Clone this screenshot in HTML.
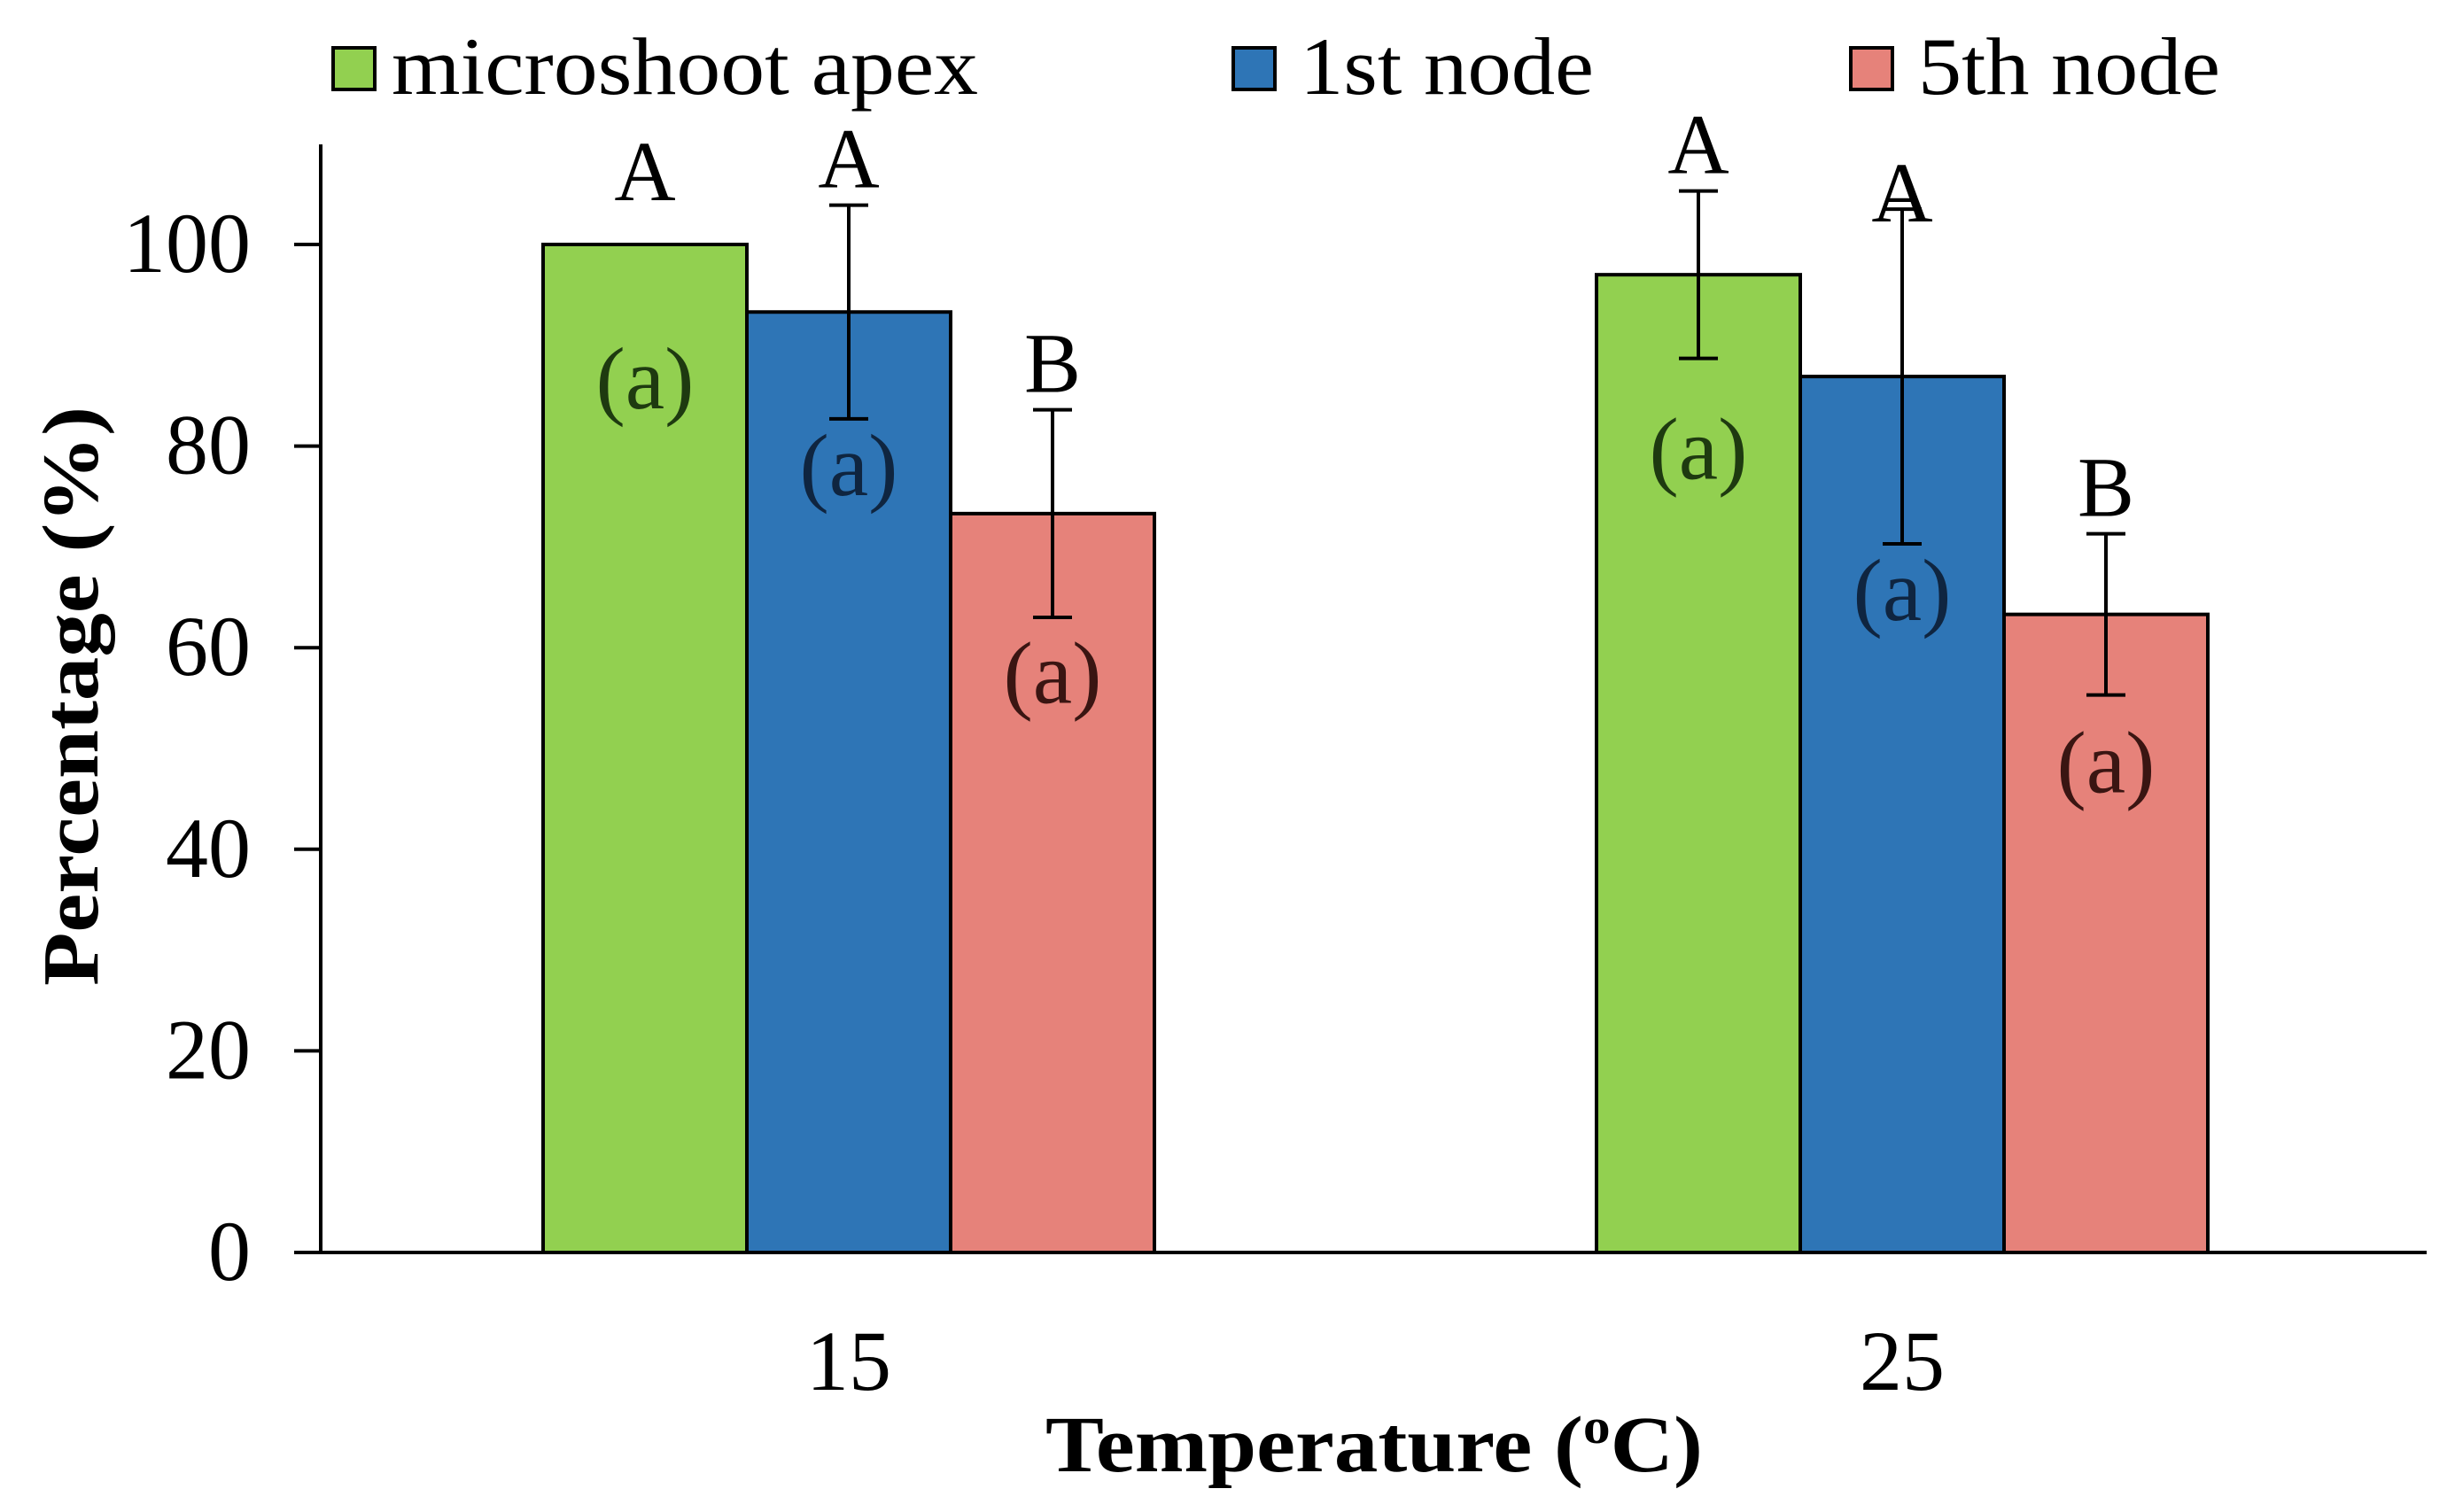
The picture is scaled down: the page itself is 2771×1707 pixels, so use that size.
<!DOCTYPE html>
<html><head><meta charset="utf-8">
<style>
html,body{margin:0;padding:0;background:#fff;}
svg{display:block;font-family:"Liberation Serif",serif;}
</style></head>
<body>
<svg id="chart" width="2771" height="1707" viewBox="0 0 2771 1707" xmlns="http://www.w3.org/2000/svg">
<g id="legend">
  <rect x="376" y="54" width="47" height="47" fill="#92d050" stroke="#000" stroke-width="4"/>
  <text x="442" y="106" font-size="92" textLength="662" lengthAdjust="spacingAndGlyphs">microshoot apex</text>
  <rect x="1392" y="54" width="47" height="47" fill="#2e75b6" stroke="#000" stroke-width="4"/>
  <text x="1467" y="106" font-size="92" textLength="332" lengthAdjust="spacingAndGlyphs">1st node</text>
  <rect x="2089" y="54" width="47" height="47" fill="#e6827a" stroke="#000" stroke-width="4"/>
  <text x="2165" y="106" font-size="92" textLength="341" lengthAdjust="spacingAndGlyphs">5th node</text>
</g>
<g id="plot"></g>
<text transform="translate(110,786) rotate(-90)" text-anchor="middle" font-size="90" font-weight="bold" textLength="654" lengthAdjust="spacingAndGlyphs">Percentage (%)</text>
<text x="1551" y="1661" text-anchor="middle" font-size="90" font-weight="bold" textLength="742" lengthAdjust="spacingAndGlyphs">Temperature (<tspan font-size="56" dy="-32">o</tspan><tspan dy="32">C)</tspan></text>
</svg>
<script>
const categories = ["15", "25"];
const seriesNames = ["microshoot apex", "1st node", "5th node"];
const apexValues = [100, 97.0];
const node1Values = [93.3, 86.9];
const node5Values = [73.3, 63.3];
const apexErrors = [0, 8.3];
const node1Errors = [10.6, 16.6];
const node5Errors = [10.3, 8.0];
const topLetters = [["A","A","B"],["A","A","B"]];
const innerLetters = [["(a)","(a)","(a)"],["(a)","(a)","(a)"]];
const yTicks = [0, 20, 40, 60, 80, 100];

const NS = "http://www.w3.org/2000/svg";
const plot = document.getElementById("plot");
const x0 = 362, xEnd = 2739, yZero = 1414, yTop = 163;
const pxPerUnit = (1414 - 276) / 100;
function yScale(v){ return yZero - v * pxPerUnit; }
const groupLeft = [613, 1802];
const barW = 230;
function xBar(ci, si){ return groupLeft[ci] + si * barW; }
const fills = ["#92d050", "#2e75b6", "#e6827a"];
const innerColors = ["#1e3a10", "#0f2540", "#3a1512"];
const innerDrop = [[13.8, 17.8], [15.7, 21.7], [16.3, 15.2]];
const values = [apexValues, node1Values, node5Values];
const errors = [apexErrors, node1Errors, node5Errors];

function mk(tag, attrs){ const e = document.createElementNS(NS, tag); for (const k in attrs) e.setAttribute(k, attrs[k]); plot.appendChild(e); return e; }

let yAxis = mk("line", {x1:x0, y1:yTop, x2:x0, y2:yZero, stroke:"#000", "stroke-width":4});


let xAxis = mk("line", {x1:332, y1:yZero, x2:xEnd, y2:yZero, stroke:"#000", "stroke-width":4});



yTicks.forEach(t => {
  const y = yScale(t);
  const tk = mk("line", {x1:332, y1:y, x2:x0, y2:y, stroke:"#000", "stroke-width":4});
  
  
  const lb = mk("text", {x:283, y:y + 31, "text-anchor":"end", "font-size":96});
  
  
  lb.textContent = t;
});

categories.forEach((c, ci) => {
  const lb = mk("text", {x:groupLeft[ci] + 1.5 * barW, y:1569, "text-anchor":"middle", "font-size":96});
  
  
  lb.textContent = c;
  for (let si = 0; si < 3; si++) {
    const v = values[si][ci], e = errors[si][ci];
    const x = xBar(ci, si), y = yScale(v);
    const r = mk("rect", {x:x, y:y, width:barW, height:yZero - y, fill:fills[si], stroke:"#000", "stroke-width":4});
    
    
    const cx = x + barW / 2;
    if (e > 0) {
      const yt = yScale(v + e), yb = yScale(v - e);
      const eb = mk("path", {d:`M${cx},${yt}V${yb}M${cx-22},${yt}H${cx+22}M${cx-22},${yb}H${cx+22}`, stroke:"#000", "stroke-width":4, fill:"none"});
      
      
    }
    const topY = e > 0 ? yScale(v + e) - 20 : yScale(v) - 50;
    const tl = mk("text", {x:cx, y:ci === 1 && si === 1 ? yScale(v + e) + 14 : topY, "text-anchor":"middle", "font-size":96});
    
    
    tl.textContent = topLetters[ci][si];
    const il = mk("text", {x:cx, y:yScale(v - innerDrop[si][ci]) + 28, "text-anchor":"middle", "font-size":100, fill:innerColors[si]});
    
    
    il.textContent = innerLetters[ci][si];
  }
});
</script>
</body></html>
